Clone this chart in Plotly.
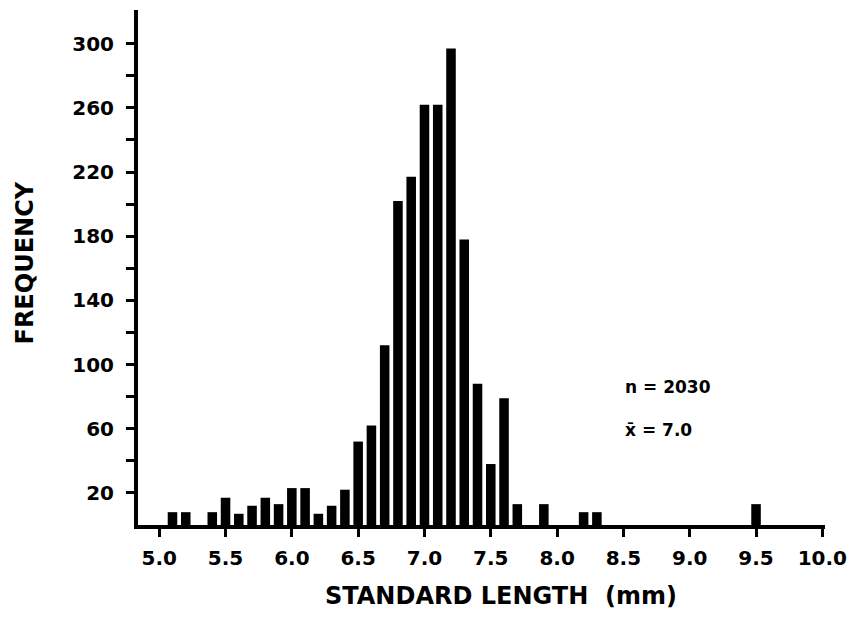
import plotly.graph_objects as go

lengths = [5.1, 5.2, 5.3, 5.4, 5.5, 5.6, 5.7, 5.8, 5.9, 6.0, 6.1, 6.2, 6.3, 6.4, 6.5,
           6.6, 6.7, 6.8, 6.9, 7.0, 7.1, 7.2, 7.3, 7.4, 7.5, 7.6, 7.7, 7.9, 8.2, 8.3, 9.5]
frequency = [8, 8, 0, 8, 17, 7, 12, 17, 13, 23, 23, 7, 12, 22, 52,
             62, 112, 202, 217, 262, 262, 297, 178, 88, 38, 79, 13, 13, 8, 8, 13]

x_ticks = [5.0, 5.5, 6.0, 6.5, 7.0, 7.5, 8.0, 8.5, 9.0, 9.5, 10.0]
x_ticklabels = ["5.0", "5.5", "6.0", "6.5", "7.0", "7.5", "8.0", "8.5", "9.0", "9.5", "10.0"]
y_ticks = [20, 60, 100, 140, 180, 220, 260, 300]
y_minor = [40, 80, 120, 160, 200, 240, 280]

FONT = "DejaVu Sans, Verdana, sans-serif"

fig = go.Figure()
fig.add_trace(go.Bar(x=lengths, y=frequency, width=0.072,
                     marker=dict(color="black", line=dict(width=0))))

fig.update_layout(
    width=850, height=629,
    margin=dict(l=138, r=25, t=10, b=104, autoexpand=False),
    paper_bgcolor="white", plot_bgcolor="white",
    showlegend=False,
    font=dict(family=FONT, color="black"),
)
fig.update_xaxes(
    range=[4.84, 10.02],
    tickvals=x_ticks, ticktext=x_ticklabels,
    ticks="outside", ticklen=8, tickwidth=2.5, tickcolor="black",
    tickfont=dict(size=20, family=FONT, color="black", weight="bold"),
    ticklabelstandoff=4, ticklabeloverflow="allow",
    showline=True, linewidth=4, linecolor="black",
    showgrid=False, zeroline=False,
)
fig.update_yaxes(
    range=[0, 321],
    tickvals=y_ticks,
    ticks="outside", ticklen=8, tickwidth=2.5, tickcolor="black",
    tickfont=dict(size=20, family=FONT, color="black", weight="bold"),
    ticklabelstandoff=8,
    minor=dict(tickvals=y_minor, ticks="outside", ticklen=8, tickwidth=2.5, tickcolor="black"),
    showline=True, linewidth=4, linecolor="black",
    showgrid=False, zeroline=False,
)
# axis titles
fig.add_annotation(xref="paper", yref="paper", x=0.529, y=-0.138, text="STANDARD LENGTH  (mm)",
                   showarrow=False, xanchor="center", yanchor="middle",
                   font=dict(size=24, family=FONT, color="black", weight="bold"))
fig.add_annotation(xref="paper", yref="paper", x=-0.165, y=0.509, text="FREQUENCY", textangle=-90,
                   showarrow=False, xanchor="center", yanchor="middle",
                   font=dict(size=24, family=FONT, color="black", weight="bold"))
# statistics
fig.add_annotation(x=8.5, y=86, text="n = 2030", showarrow=False, xanchor="left",
                   font=dict(size=17, family=FONT, color="black", weight="bold"))
fig.add_annotation(x=8.5, y=59, text="x\u0304 = 7.0", showarrow=False, xanchor="left",
                   font=dict(size=17, family=FONT, color="black", weight="bold"))

# remove the page's default body margin so the figure fills the window exactly
fig.write_html("out.html", config={"displayModeBar": False},
               post_script="document.body.style.margin='0';document.body.style.overflow='hidden';")
